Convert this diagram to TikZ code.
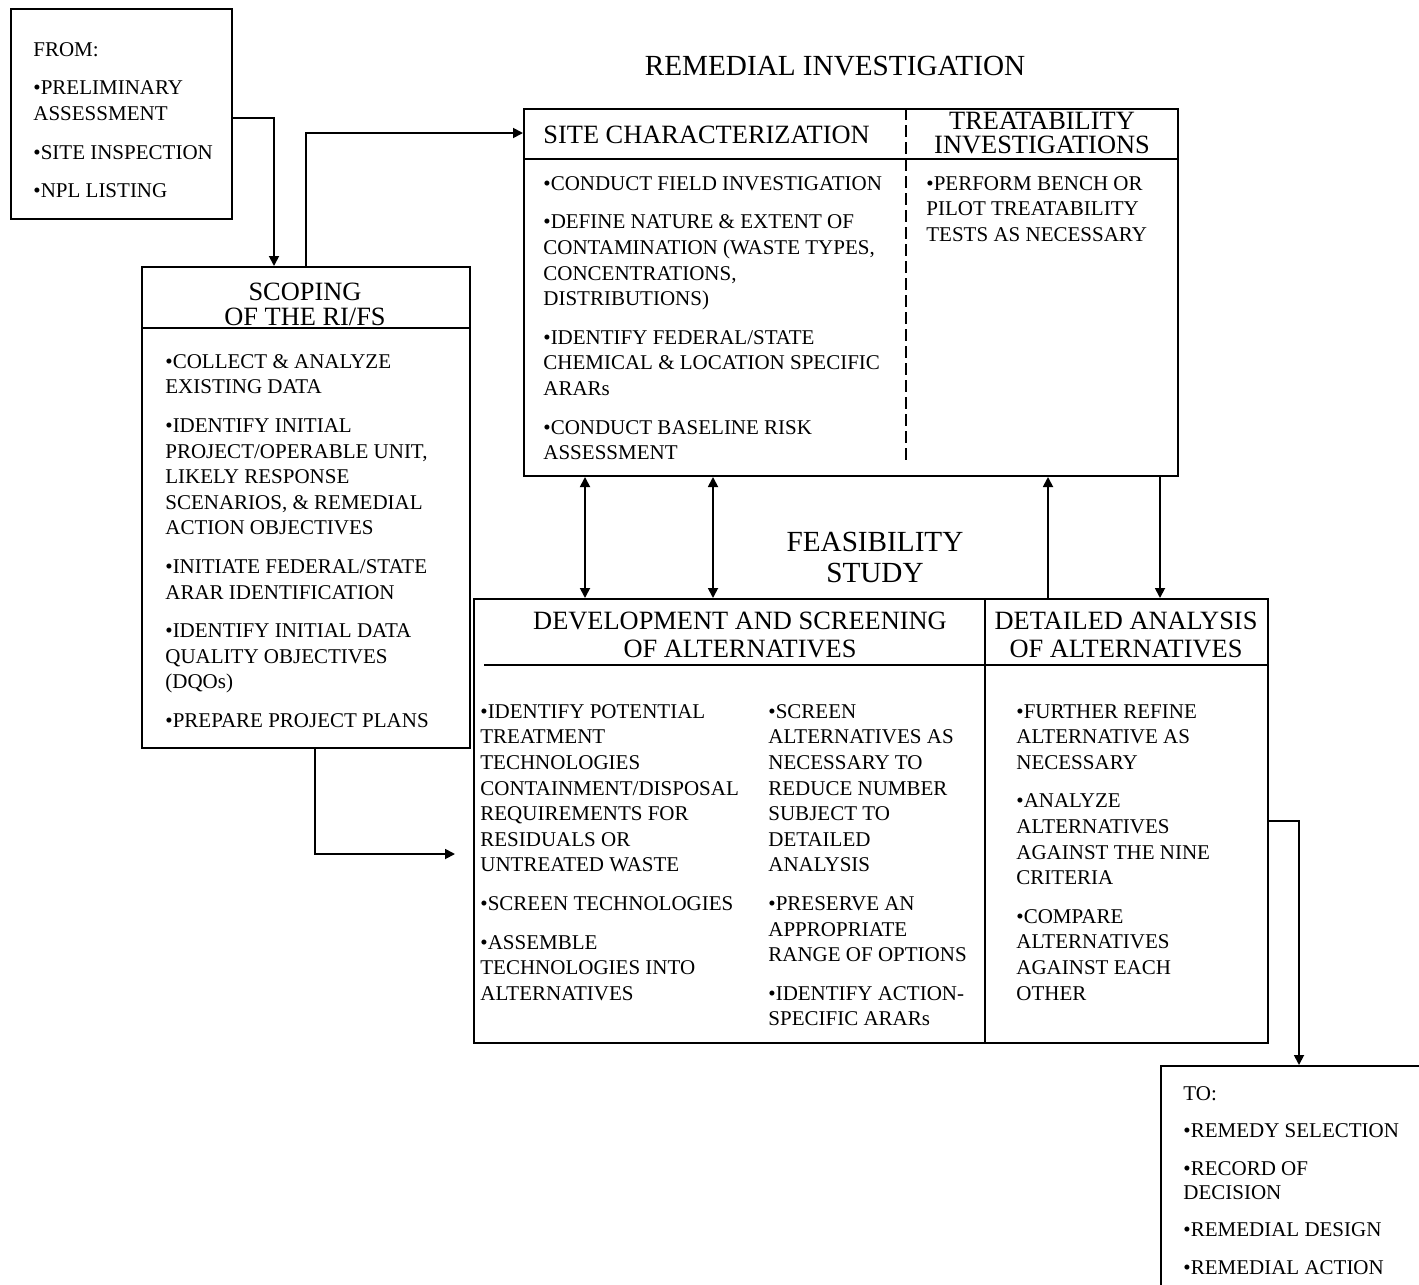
\documentclass[tikz,border=0pt]{standalone}
\usepackage{fontspec}
\setmainfont{Liberation Serif}
\usetikzlibrary{arrows.meta,positioning,calc}
\newcommand{\itemgap}{\\[6.5pt]}

\begin{document}
\begin{tikzpicture}[x=0.5pt,y=-0.5pt,
  box/.style={draw,line width=1pt,inner sep=0pt,anchor=north west},
  body/.style={inner sep=0pt,anchor=north west,align=left,font=\fontsize{10.5pt}{12.8pt}\selectfont},
  head/.style={inner sep=0pt,align=center,font=\fontsize{13.2pt}{13pt}\selectfont},
  title/.style={inner sep=0pt,align=center,font=\fontsize{14.6pt}{15.5pt}\selectfont},
  arr/.style={line width=0.9pt,-{Triangle[length=5pt,width=5pt]}},
  dbl/.style={line width=0.9pt,{Triangle[length=5pt,width=5pt]}-{Triangle[length=5pt,width=5pt]}}]
\useasboundingbox (0,0) rectangle (1419,1285);

% boxes
\node[box,minimum width=110.5pt,minimum height=105pt] (from) at (10,8) {};
\node[box,minimum width=164pt,minimum height=240.5pt] (scope) at (141,266) {};
\node[box,minimum width=327pt,minimum height=183.5pt] (site) at (523,108) {};
\node[box,minimum width=397pt,minimum height=222pt] (fs) at (473,598) {};
\node[box,minimum width=138pt,minimum height=120pt] (to) at (1160,1065) {};

% header rules and dividers
\draw[line width=1pt] ([yshift=-31pt]scope.north west) -- ([yshift=-31pt]scope.north east);
\draw[line width=1pt] ([yshift=-25.5pt]site.north west) -- ([yshift=-25.5pt]site.north east);
\draw[line width=1pt,dash pattern=on 6pt off 2.5pt] ([xshift=191.5pt]site.north west) -- ([xshift=191.5pt,yshift=-177pt]site.north west);
\draw[line width=1pt] ([xshift=5.5pt,yshift=-33.5pt]fs.north west) -- ([yshift=-33.5pt]fs.north east);
\draw[line width=1pt] ([xshift=256pt]fs.north west) -- ([xshift=256pt]fs.south west);

% titles
\node[title] (ritxt) at (835,66) {REMEDIAL INVESTIGATION};
\node[title] (fstxt) at (875,557.5) {FEASIBILITY\\STUDY};

% headers
\node[head,font=\fontsize{13.2pt}{12.5pt}\selectfont] (scopehd) at (305,304.5) {SCOPING\\OF THE RI/FS};
\node[head,anchor=west] (sitehd) at (543,135) {SITE CHARACTERIZATION};
\node[head,font=\fontsize{13.2pt}{12pt}\selectfont] (treathd) at (1042,133) {TREATABILITY\\INVESTIGATIONS};
\node[head,font=\fontsize{13.2pt}{14pt}\selectfont] (devhd) at (740,635) {DEVELOPMENT AND SCREENING\\OF ALTERNATIVES};
\node[head,font=\fontsize{13.2pt}{14pt}\selectfont] (dethd) at (1126,635) {DETAILED ANALYSIS\\OF ALTERNATIVES};

% box texts
\node[body] (fromtxt) at (33,42) {FROM:\itemgap
  •PRELIMINARY\\ASSESSMENT\itemgap
  •SITE INSPECTION\itemgap
  •NPL LISTING};
\node[body] (scopetxt) at (165,354) {•COLLECT \& ANALYZE\\EXISTING DATA\itemgap
  •IDENTIFY INITIAL\\PROJECT/OPERABLE UNIT,\\LIKELY RESPONSE\\SCENARIOS, \& REMEDIAL\\ACTION OBJECTIVES\itemgap
  •INITIATE FEDERAL/STATE\\ARAR IDENTIFICATION\itemgap
  •IDENTIFY INITIAL DATA\\QUALITY OBJECTIVES\\(DQOs)\itemgap
  •PREPARE PROJECT PLANS};
\node[body] (sitetxt) at (543,176) {•CONDUCT FIELD INVESTIGATION\itemgap
  •DEFINE NATURE \& EXTENT OF\\CONTAMINATION (WASTE TYPES,\\CONCENTRATIONS,\\DISTRIBUTIONS)\itemgap
  •IDENTIFY FEDERAL/STATE\\CHEMICAL \& LOCATION SPECIFIC\\ARARs\itemgap
  •CONDUCT BASELINE RISK\\ASSESSMENT};
\node[body] (treattxt) at (926,176) {•PERFORM BENCH OR\\PILOT TREATABILITY\\TESTS AS NECESSARY};
\node[body] (devtxta) at (480,704) {•IDENTIFY POTENTIAL\\TREATMENT\\TECHNOLOGIES\\CONTAINMENT/DISPOSAL\\REQUIREMENTS FOR\\RESIDUALS OR\\UNTREATED WASTE\itemgap
  •SCREEN TECHNOLOGIES\itemgap
  •ASSEMBLE\\TECHNOLOGIES INTO\\ALTERNATIVES};
\node[body] (devtxtb) at (768,704) {•SCREEN\\ALTERNATIVES AS\\NECESSARY TO\\REDUCE NUMBER\\SUBJECT TO\\DETAILED\\ANALYSIS\itemgap
  •PRESERVE AN\\APPROPRIATE\\RANGE OF OPTIONS\itemgap
  •IDENTIFY ACTION-\\SPECIFIC ARARs};
\node[body] (dettxt) at (1016,704) {•FURTHER REFINE\\ALTERNATIVE AS\\NECESSARY\itemgap
  •ANALYZE\\ALTERNATIVES\\AGAINST THE NINE\\CRITERIA\itemgap
  •COMPARE\\ALTERNATIVES\\AGAINST EACH\\OTHER};
\node[body,font=\fontsize{10.5pt}{12.2pt}\selectfont] (totxt) at (1183,1086) {TO:\itemgap
  •REMEDY SELECTION\itemgap
  •RECORD OF\\DECISION\itemgap
  •REMEDIAL DESIGN\itemgap
  •REMEDIAL ACTION};

% connectors
\draw[arr] ([yshift=-2pt]from.east) -| ([xshift=-16pt]scope.north);
\draw[arr] (scope.north) |- ([yshift=-12.5pt]site.north west);
\draw[dbl] ([xshift=31pt]site.south west) -- ([xshift=31pt]site.south west |- fs.north);
\draw[dbl] ([xshift=95pt]site.south west) -- ([xshift=95pt]site.south west |- fs.north);
\draw[arr] ([xshift=287.5pt]fs.north west) -- ([xshift=287.5pt]fs.north west |- site.south);
\draw[arr] ([xshift=-9.5pt]site.south east) -- ([xshift=-9.5pt]site.south east |- fs.north);
\draw[arr] ([xshift=4.5pt]scope.south) |- ([xshift=-9pt,yshift=-16.5pt]fs.west);
\draw[arr] (fs.east) -| (to.north);
\end{tikzpicture}
\end{document}
